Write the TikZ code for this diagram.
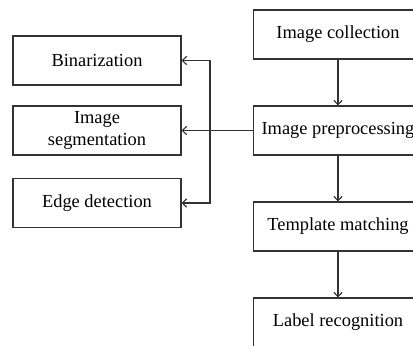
\documentclass[tikz,border=0pt]{standalone}
\usepackage{fontspec}
\setmainfont{Liberation Serif}
\usepackage{tikz}
\usetikzlibrary{arrows.meta,positioning}

\begin{document}
\begin{tikzpicture}[x=0.5pt, y=-0.5pt,
  stepbox/.style={draw=black!80, line width=0.55pt, minimum width=84.5pt,
    minimum height=24.5pt, align=center, inner sep=1pt,
    font=\fontsize{9.2}{10.8}\selectfont},
  arr/.style={draw=black!80, line width=0.55pt,
    -{Straight Barb[length=2.2pt, width=4.2pt]}}]
\useasboundingbox (0,0) rectangle (413,346);
\clip (0,0) rectangle (413,346);

\node[stepbox] (coll) at (338,34.5) {Image collection};
\node[stepbox] (prep) at (338,130.5) {Image preprocessing};
\node[stepbox] (tmpl) at (338,226.5) {Template matching};
\node[stepbox] (lab) at (338,322.5) {Label recognition};

\node[stepbox, minimum width=84pt] (bin) at (97,60.5) {Binarization};
\node[stepbox, minimum width=84pt] (seg) at (97,130.5) {Image\\segmentation};
\node[stepbox, minimum width=84pt] (edge) at (97,203) {Edge detection};

\coordinate (bus) at (210,130.5);

\draw[arr] (coll) -- (prep);
\draw[arr] (prep) -- (tmpl);
\draw[arr] (tmpl) -- (lab);
\draw[arr] (prep) -- (seg);
\draw[arr, {Straight Barb[length=2.2pt, width=4.2pt]}-{Straight Barb[length=2.2pt, width=4.2pt]}]
  (bin.east) -| (bus) |- (edge.east);
\end{tikzpicture}
\end{document}
